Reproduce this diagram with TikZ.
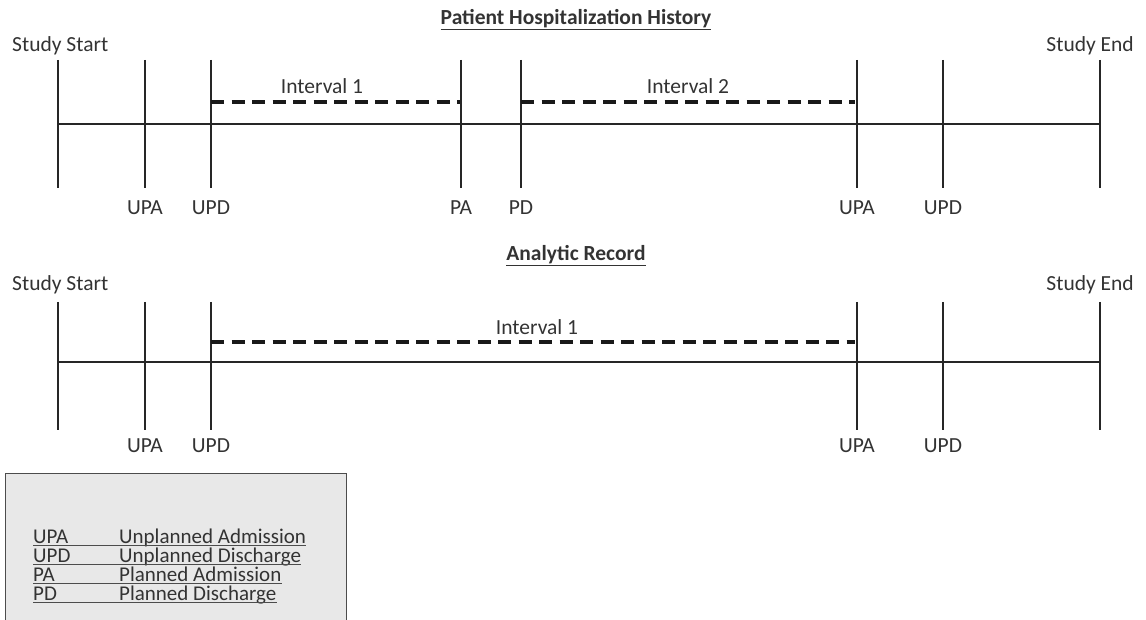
\documentclass[tikz,border=0pt]{standalone}
\usepackage{fontspec}
\setmainfont{Carlito}
\begin{document}
\begin{tikzpicture}[x=1pt,y=-1pt,
  txt/.style={inner sep=0pt, font=\fontsize{21.5}{24}\selectfont, text=black!80},
  ttl/.style={inner sep=0pt, font=\fontsize{21.5}{24}\selectfont\bfseries, text=black!80},
  tick/.style={line width=1.3pt, draw=black!85},
  axis/.style={line width=1.1pt, draw=black!85},
  ival/.style={line width=3.2pt, draw=black!90, dash pattern=on 13pt off 7.5pt},
  leg/.style={inner sep=0pt, anchor=base west, font=\fontsize{21}{24}\selectfont, text=black!80},
  legline/.style={line width=1.2pt, draw=black!70}]
\useasboundingbox (0,0) rectangle (1146,620);

% ---------- Top diagram ----------
\node[ttl] (t1) at (576,20) {\underline{Patient Hospitalization History}};
\node[txt, anchor=west] (ss1) at (12,46) {Study Start};
\node[txt, anchor=east] (se1) at (1134,46) {Study End};

\foreach \n/\x in {a/58,b/145,c/211,d/461,e/521,f/857,g/943,h/1100}{
  \coordinate (T\n t) at (\x,60);
  \coordinate (T\n b) at (\x,188);
  \draw[tick] (T\n t) -- (T\n b);
}
\coordinate (Tax1) at (58,124);
\coordinate (Tax2) at (1100,124);
\draw[axis] (Tax1) -- (Tax2);

\node[txt] (l1) at (145,208) {UPA};
\node[txt] (l2) at (211,208) {UPD};
\node[txt] (l3) at (461,208) {PA};
\node[txt] (l4) at (521,208) {PD};
\node[txt] (l5) at (857,208) {UPA};
\node[txt] (l6) at (943,208) {UPD};

\coordinate (i1a) at (211,102);
\coordinate (i1b) at (460,102);
\coordinate (i2a) at (521,102);
\coordinate (i2b) at (855,102);
\draw[ival] (i1a) -- (i1b);
\draw[ival] (i2a) -- (i2b);
\node[txt] (iv1) at (322,86) {Interval 1};
\node[txt] (iv2) at (688,86) {Interval 2};

% ---------- Bottom diagram ----------
\node[ttl] (t2) at (576,256) {\underline{Analytic Record}};
\node[txt, anchor=west] (ss2) at (12,285) {Study Start};
\node[txt, anchor=east] (se2) at (1134,285) {Study End};

\foreach \n/\x in {a/58,b/145,c/211,f/857,g/943,h/1100}{
  \coordinate (B\n t) at (\x,302);
  \coordinate (B\n b) at (\x,430);
  \draw[tick] (B\n t) -- (B\n b);
}
\coordinate (Bax1) at (58,362);
\coordinate (Bax2) at (1100,362);
\draw[axis] (Bax1) -- (Bax2);

\node[txt] (m1) at (145,446) {UPA};
\node[txt] (m2) at (211,446) {UPD};
\node[txt] (m5) at (857,446) {UPA};
\node[txt] (m6) at (943,446) {UPD};

\coordinate (j1a) at (211,342);
\coordinate (j1b) at (855,342);
\draw[ival] (j1a) -- (j1b);
\node[txt] (jv1) at (537,327) {Interval 1};

% ---------- Legend ----------
\fill[black!9] (5,473) rectangle (346,620);
\draw[black!70, line width=1pt] (5,620) -- (5,473) -- (346,473) -- (346,620);

\foreach \k/\a/\t/\y in {1/UPA/Unplanned Admission/543, 2/UPD/Unplanned Discharge/562, 3/PA/Planned Admission/581, 4/PD/Planned Discharge/600}{
  \node[leg] (ka\k) at (33,\y) {\a};
  \node[leg] (kt\k) at (119,\y) {\t};
  \draw[legline] ([yshift=-2.5pt]ka\k.base west) -- ([yshift=-2.5pt]kt\k.base east);
}
\end{tikzpicture}
\end{document}
